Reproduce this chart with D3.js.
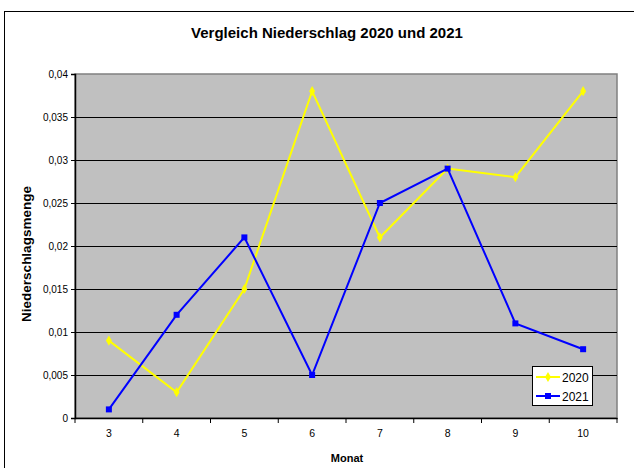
<!DOCTYPE html>
<meta charset="utf-8">
<style>
body { margin: 0; background: #fff; }
text { font-family: "Liberation Sans", Arial, sans-serif; fill: #000; }
.title { font-size: 15px; font-weight: bold; }
.axis-title { font-size: 11px; font-weight: bold; }
.tick text { font-size: 10px; }
.legend text { font-size: 12px; }
</style>
<svg width="634" height="468"></svg>
<script src="https://cdn.jsdelivr.net/npm/d3@7"></script>
<script>

var months = [3, 4, 5, 6, 7, 8, 9, 10];
var rain2020 = [0.009, 0.003, 0.015, 0.038, 0.021, 0.029, 0.028, 0.038];
var rain2021 = [0.001, 0.012, 0.021, 0.005, 0.025, 0.029, 0.011, 0.008];
var yTicks = [0, 0.005, 0.01, 0.015, 0.02, 0.025, 0.03, 0.035, 0.04];

var svg = d3.select("svg");

// chart frame (only top/left visible)
svg.append("rect")
    .attr("x", 4.5).attr("y", 11.5)
    .attr("width", 700).attr("height", 500)
    .attr("fill", "#fff").attr("stroke", "#000").attr("stroke-width", 1);

var pLeft = 75, pRight = 617, pTop = 74, pBottom = 418;

var x = d3.scaleBand().domain(months).range([pLeft, pRight]);
var y = d3.scaleLinear().domain([0, 0.04]).range([pBottom, pTop]);

// plot area
svg.append("rect")
    .attr("x", pLeft).attr("y", pTop)
    .attr("width", pRight - pLeft).attr("height", pBottom - pTop)
    .attr("fill", "#c0c0c0").attr("stroke", "#808080").attr("stroke-width", 1.5);

// gridlines
svg.append("g")
  .selectAll("line")
  .data(yTicks.slice(1, -1))
  .enter().append("line")
    .attr("x1", pLeft).attr("x2", pRight)
    .attr("y1", function(d) { return Math.round(y(d)) + 0.5; })
    .attr("y2", function(d) { return Math.round(y(d)) + 0.5; })
    .attr("stroke", "#000").attr("stroke-width", 1.2);

var fmt = function(d) { return String(d).replace(".", ","); };

// y axis
var yAxis = svg.append("g")
    .attr("transform", "translate(" + pLeft + ",0)")
    .call(d3.axisLeft(y).tickValues(yTicks).tickFormat(fmt).tickSize(4).tickPadding(3));
yAxis.select(".domain").attr("stroke", "#000").attr("stroke-width", 1.5);
yAxis.selectAll(".tick line").attr("stroke", "#000");

// x axis - ticks between categories
var xAxis = svg.append("g")
    .attr("transform", "translate(0," + pBottom + ")")
    .call(d3.axisBottom(x).tickSize(0).tickPadding(12));
xAxis.select(".domain").attr("stroke", "#000").attr("stroke-width", 1.5);
xAxis.selectAll(".tick text").style("font-size", "10.5px");
xAxis.selectAll(".sep")
  .data(d3.range(months.length + 1))
  .enter().append("line")
    .attr("class", "sep")
    .attr("x1", function(i) { return pLeft + i * x.step(); })
    .attr("x2", function(i) { return pLeft + i * x.step(); })
    .attr("y1", 0).attr("y2", 5)
    .attr("stroke", "#000");

var line = d3.line()
    .x(function(d, i) { return x(months[i]) + x.bandwidth() / 2; })
    .y(function(d) { return y(d); });

function drawSeries(vals, color, symbol, size) {
  svg.append("path")
      .datum(vals)
      .attr("d", line)
      .attr("fill", "none")
      .attr("stroke", color)
      .attr("stroke-width", 2);
  svg.append("g")
    .selectAll("path")
    .data(vals)
    .enter().append("path")
      .attr("d", d3.symbol().type(symbol).size(size))
      .attr("transform", function(d, i) {
        return "translate(" + (x(months[i]) + x.bandwidth() / 2) + "," + y(d) + ")";
      })
      .attr("fill", color);
}

drawSeries(rain2020, "#ffff00", d3.symbolDiamond, 30);
drawSeries(rain2021, "#0000ff", d3.symbolSquare, 36);

// legend
var lg = svg.append("g").attr("class", "legend");
lg.append("rect")
    .attr("x", 532.5).attr("y", 366.5).attr("width", 60).attr("height", 39)
    .attr("fill", "#fff").attr("stroke", "#000");
var legendItems = [
  {name: "2020", color: "#ffff00", sym: d3.symbolDiamond, size: 30},
  {name: "2021", color: "#0000ff", sym: d3.symbolSquare, size: 36}
];
legendItems.forEach(function(it, i) {
  var yy = 377 + i * 19;
  lg.append("line").attr("x1", 536).attr("x2", 560).attr("y1", yy).attr("y2", yy)
    .attr("stroke", it.color).attr("stroke-width", 2);
  lg.append("path").attr("d", d3.symbol().type(it.sym).size(it.size)())
    .attr("transform", "translate(548," + yy + ")").attr("fill", it.color);
  lg.append("text").attr("x", 562).attr("y", yy + 4.5).text(it.name);
});

// titles
svg.append("text").attr("class", "title")
    .attr("x", 327).attr("y", 38).attr("text-anchor", "middle")
    .text("Vergleich Niederschlag 2020 und 2021");
svg.append("text").attr("class", "axis-title")
    .attr("x", 347).attr("y", 462).attr("text-anchor", "middle")
    .text("Monat");
svg.append("text").attr("class", "axis-title")
    .style("font-size", "13.5px")
    .attr("transform", "translate(31,254) rotate(-90)")
    .attr("text-anchor", "middle")
    .text("Niederschlagsmenge");

</script>
